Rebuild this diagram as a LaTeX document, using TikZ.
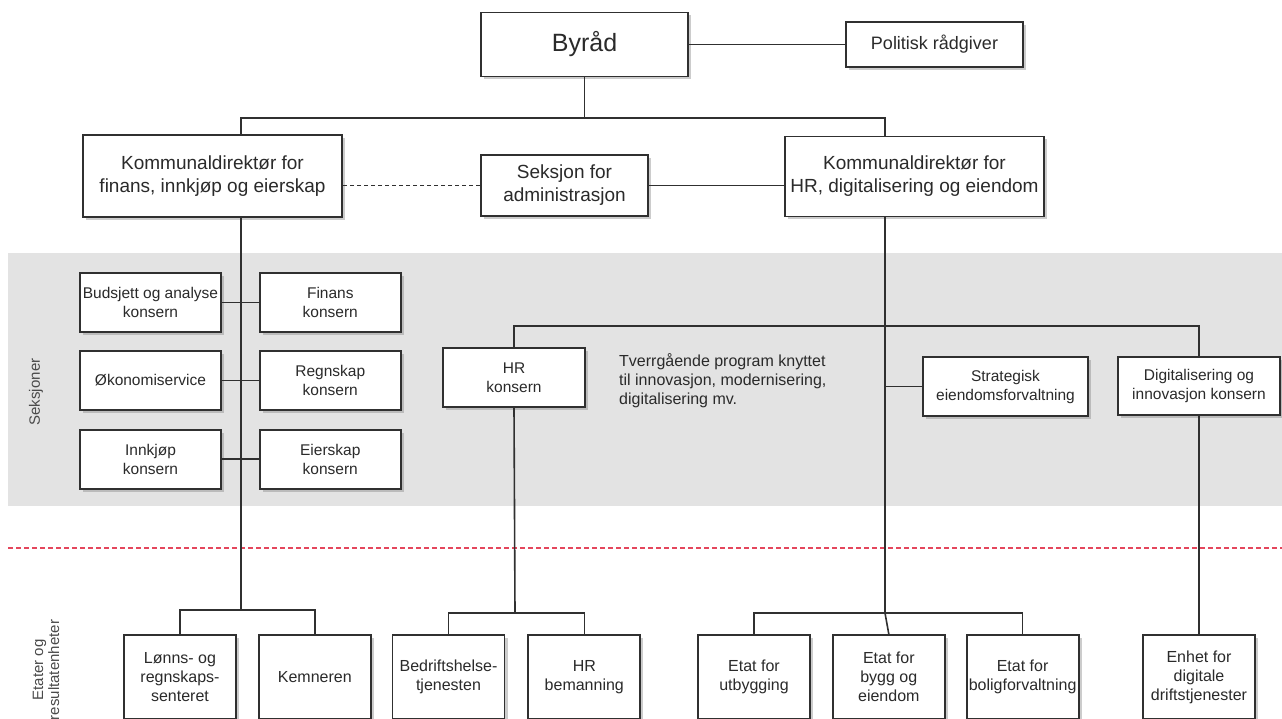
\documentclass[tikz,border=0pt]{standalone}
\usepackage{fontspec}
\setmainfont{Liberation Sans}
\usepackage{xcolor}
\usetikzlibrary{shapes,shadows,calc,positioning}
\definecolor{linegray}{HTML}{303030}
\definecolor{bandgray}{HTML}{E3E3E3}
\definecolor{sepred}{HTML}{E4465C}
\definecolor{labelgray}{HTML}{4A4A4A}
\definecolor{textgray}{HTML}{2A2A2A}

\begin{document}
\begin{tikzpicture}[x=1pt,y=-1pt]
	\tikzstyle{obox}=[rectangle,draw=linegray,line width=1.8pt,fill=white,text=textgray,align=center,inner sep=2pt,
		drop shadow={opacity=0.4,shadow xshift=3pt,shadow yshift=-3pt}]
	\tikzstyle{topbox}=[obox,font=\fontsize{19}{23}\selectfont]
	\tikzstyle{secbox}=[obox,minimum width=141pt,minimum height=59pt,font=\fontsize{15.5}{19}\selectfont]
	\tikzstyle{unitbox}=[obox,minimum width=112pt,minimum height=84pt,font=\fontsize{16}{19}\selectfont]
	\tikzstyle{conn}=[draw=linegray,line width=1.6pt]
	\tikzstyle{sidelabel}=[rotate=90,align=center,text=labelgray,font=\fontsize{15}{16}\selectfont]

	\useasboundingbox (0,0) rectangle (1282,719);
	\clip (0,0) rectangle (1282,718);

	% bakgrunn
	\fill[bandgray] (8,253) rectangle (1282,506);
	\draw[sepred,line width=1.8pt,dash pattern=on 5pt off 3pt] (8,548) -- (1282,548);

	% toppniva
	\node[obox,minimum width=207pt,minimum height=64pt,font=\fontsize{25}{30}\selectfont] (byrad) at (584.5,44.5) {Byråd};
	\node[obox,minimum width=177pt,minimum height=45pt,font=\fontsize{18}{22}\selectfont] (politisk) at (934.5,44.5) {Politisk rådgiver};
	\node[topbox,minimum width=259pt,minimum height=82pt] (kdirfin) at (212.5,176) {Kommunaldirektør for\\finans, innkjøp og eierskap};
	\node[topbox,minimum width=167pt,minimum height=61pt] (seksjon) at (564.5,185.5) {Seksjon for\\administrasjon};
	\node[topbox,minimum width=259pt,minimum height=80pt] (kdirhr) at (914.5,176.5) {Kommunaldirektør for\\HR, digitalisering og eiendom};

	% seksjoner
	\node[secbox] (budsjett) at (150.5,302.5) {Budsjett og analyse\\konsern};
	\node[secbox,right=37pt of budsjett] (finans) {Finans\\konsern};
	\node[secbox,below=17pt of budsjett] (okonomi) {Økonomiservice};
	\node[secbox,right=37pt of okonomi] (regnskap) {Regnskap\\konsern};
	\node[secbox,below=18pt of okonomi] (innkjop) {Innkjøp\\konsern};
	\node[secbox,right=37pt of innkjop] (eierskap) {Eierskap\\konsern};
	\node[secbox,minimum width=142pt] (hrkonsern) at (514,377.5) {HR\\konsern};
	\node[anchor=west,inner sep=0pt,align=left,text=textgray,font=\fontsize{16}{19}\selectfont] (tverr) at (619,381)
		{Tverrgående program knyttet\\til innovasjon, modernisering,\\digitalisering mv.};
	\node[secbox,minimum width=165pt] (strategisk) at (1005.5,386.5) {Strategisk\\eiendomsforvaltning};
	\node[secbox,minimum width=162pt,minimum height=58pt] (digital) at (1199,386) {Digitalisering og\\innovasjon konsern};

	% etater og resultatenheter
	\node[unitbox] (lonns) at (180,677) {Lønns- og\\regnskaps-\\senteret};
	\node[unitbox,right=21pt of lonns] (kemneren) {Kemneren};
	\node[unitbox] (bedrift) at (448.5,677) {Bedriftshelse-\\tjenesten};
	\node[unitbox,right=22pt of bedrift] (hrbem) {HR\\bemanning};
	\node[unitbox] (utbygging) at (754,677) {Etat for\\utbygging};
	\node[unitbox,right=21pt of utbygging] (bygg) {Etat for\\bygg og\\eiendom};
	\node[unitbox,right=20pt of bygg] (bolig) {Etat for\\boligforvaltning};
	\node[unitbox] (enhet) at (1199,677) {Enhet for\\digitale\\driftstjenester};

	% sidetekster
	\node[sidelabel] (seklabel) at (36,392) {Seksjoner};
	\node[sidelabel] (etatlabel) at (46,670) {Etater og\\resultatenheter};

	% linjer
	\coordinate (topleft) at (241,118);
	\coordinate (topright) at (885,118);
	\coordinate (finbar) at (241,610);
	\coordinate (hrbar) at (515,613);
	\coordinate (eibar) at (885,613);
	\coordinate (sekbar) at (885,326);

	\draw[conn] (byrad) -- (politisk);
	\draw[conn] (byrad.south) -- (byrad.south |- topleft);
	\draw[conn] (kdirfin.north -| topleft) -- (topleft) -- (topright) -- (kdirhr.north -| topright);
	\draw[conn,dash pattern=on 4pt off 3pt] (seksjon.west) -- (seksjon.west -| kdirfin.east);
	\draw[conn] (seksjon.east) -- (seksjon.east -| kdirhr.west);

	\draw[conn] (kdirfin.south -| finbar) -- (finbar);
	\draw[conn] (budsjett.east) -- (finans.west);
	\draw[conn] (okonomi.east) -- (regnskap.west);
	\draw[conn] (innkjop.east) -- (eierskap.west);
	\draw[conn] (lonns.north) |- (finbar) -| (kemneren.north);

	\draw[conn] (kdirhr.south -| eibar) -- (eibar);
	\draw[conn] (hrkonsern.north) |- (sekbar) -| (digital.north);
	\draw[conn] (strategisk.west) -- (strategisk.west -| eibar);
	\draw[conn] (hrkonsern.south) -- (hrbar);
	\draw[conn] (bedrift.north) |- (hrbar) -| (hrbem.north);
	\draw[conn] (utbygging.north) |- (eibar) -| (bolig.north);
	\draw[conn] (eibar) -- (bygg.north);
	\draw[conn] (digital.south) -- (enhet.north);
\end{tikzpicture}
\end{document}
